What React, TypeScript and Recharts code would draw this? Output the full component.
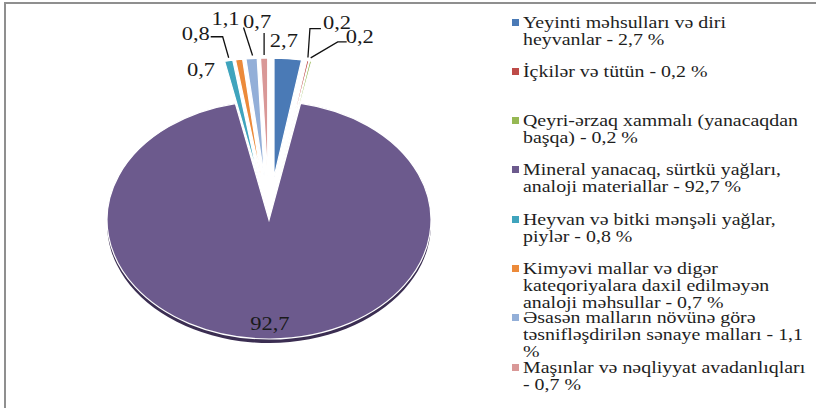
import React from 'react';
import { PieChart, Pie, Cell, Legend } from 'recharts';

// export structure shares, %
const categories = [
  'Yeyinti məhsulları və diri heyvanlar',
  'İçkilər və tütün',
  'Qeyri-ərzaq xammalı (yanacaqdan başqa)',
  'Mineral yanacaq, sürtkü yağları, analoji materiallar',
  'Heyvan və bitki mənşəli yağlar, piylər',
  'Kimyəvi mallar və digər kateqoriyalara daxil edilməyən analoji məhsullar',
  'Əsasən malların növünə görə təsnifləşdirilən sənaye malları',
  'Maşınlar və nəqliyyat avadanlıqları',
];
const shares = [2.7, 0.2, 0.2, 92.7, 0.8, 0.7, 1.1, 0.7];

const colors = ['#4a7ab6', '#be4b48', '#96b853', '#6c5a8d', '#3fa4bd', '#ec8a3a', '#93afd8', '#d99897'];

const data = categories.map((name, i) => ({ name, value: shares[i] }));

const FONT = '"Liberation Serif", "Times New Roman", serif';
const RAD = Math.PI / 180;
const K = 1.361; // horizontal stretch of the pie (ellipse)
const EXPLODE = 43;
const DEPTH = 4;

// label text offsets relative to the slice's outer point + leader line points
const labelPlace: ({ dx: number; dy: number; leader: number[][] } | null)[] = [
  { dx: -4, dy: -12, leader: [] },
  { dx: 29, dy: -32, leader: [[0, -3], [2, -32], [13, -32]] },
  { dx: 49, dy: -18, leader: [[0, -3], [27, -19], [36, -19]] },
  null,
  { dx: -33, dy: -21, leader: [[0, -3], [-6, -24], [-18, -24]] },
  { dx: -38, dy: 16, leader: [] },
  { dx: -26, dy: -34, leader: [[1, -3], [-8, -31]] },
  { dx: -7, dy: -30, leader: [[0, -3], [0, -25]] },
];

// legend line breaks the browser would not pick by itself (word after which to wrap)
const legendBreakAfter: (string | null)[] = ['diri', null, null, null, null, null, null, null];

const fmt = (v: number) => String(v).replace('.', ',');

const ellipsePoint = (cx: number, cy: number, r: number, angle: number) => ({
  x: cx + K * r * Math.cos(-angle * RAD),
  y: cy + r * Math.sin(-angle * RAD),
});

const sectorPath = (cx: number, cy: number, r: number, a0: number, a1: number) => {
  const p0 = ellipsePoint(cx, cy, r, a0);
  const p1 = ellipsePoint(cx, cy, r, a1);
  const large = Math.abs(a1 - a0) > 180 ? 1 : 0;
  const sweep = a1 < a0 ? 1 : 0;
  return `M${cx},${cy} L${p0.x},${p0.y} A${K * r},${r} 0 ${large} ${sweep} ${p1.x},${p1.y} Z`;
};

const EllipseSector = (props: any) => {
  const { cx, cy, outerRadius, startAngle, endAngle, fill, percent } = props;
  const big = percent > 0.5;
  const mid = (startAngle + endAngle) / 2;
  const off = big ? 0 : EXPLODE;
  const ox = K * off * Math.cos(-mid * RAD);
  const oy = off * Math.sin(-mid * RAD);
  const x = cx + ox;
  const y = cy + oy;
  return (
    <g>
      {big && (
        <path d={sectorPath(x, y + DEPTH, outerRadius, startAngle, endAngle)} fill="#3b2e52" />
      )}
      <path d={sectorPath(x, y, outerRadius, startAngle, endAngle)} fill={fill} stroke="#ffffff" strokeWidth={1.2} />
    </g>
  );
};

const renderLabel = (props: any) => {
  const { cx, cy, midAngle, outerRadius, index, value, percent } = props;
  const place = labelPlace[index];
  const textStyle = { fontFamily: FONT, fontSize: 18, fill: '#1a1a1a' };
  if (!place || percent > 0.5) {
    const p = ellipsePoint(cx, cy, outerRadius * 0.9, midAngle);
    return (
      <text transform={`translate(${p.x},${p.y + 3}) scale(1.25,1)`} textAnchor="middle" {...textStyle}>
        {fmt(value)}
      </text>
    );
  }
  const a = ellipsePoint(cx, cy, outerRadius + EXPLODE, midAngle);
  const pts = place.leader.map(([lx, ly]) => `${a.x + lx},${a.y + ly}`).join(' ');
  return (
    <g>
      {place.leader.length > 0 && <polyline points={pts} fill="none" stroke="#111" strokeWidth={1.3} />}
      <text transform={`translate(${a.x + place.dx},${a.y + place.dy}) scale(1.25,1)`} textAnchor="middle" {...textStyle}>
        {fmt(value)}
      </text>
    </g>
  );
};

const legendText = (i: number) => {
  const full = `${categories[i]} - ${fmt(shares[i])} %`;
  const w = legendBreakAfter[i];
  if (!w) return full;
  const at = full.indexOf(w) + w.length;
  return `${full.slice(0, at)}\n${full.slice(at + 1)}`;
};

// legend keeps the data order (recharts sorts the payload by name)
const renderLegend = () => (
  <div style={{ position: 'relative', width: 308, height: 408 }}>
    {categories.map((name, i) => (
      <div key={name} style={{ position: 'absolute', left: 0, top: 13.5 + i * 49.3, width: 308 }}>
        <div style={{ position: 'absolute', left: 4, top: 5, width: 7, height: 7, background: colors[i] }} />
        <div
          style={{
            position: 'absolute',
            left: 15,
            top: 0,
            width: 245,
            fontFamily: FONT,
            fontSize: 17,
            lineHeight: '17px',
            color: '#1e1e1e',
            transform: 'scaleX(1.17)',
            transformOrigin: 'left top',
            textAlign: 'left',
            whiteSpace: 'pre-line',
          }}
        >
          {legendText(i)}
        </div>
      </div>
    ))}
  </div>
);

export default function App() {
  return (
    <div style={{ position: 'absolute', left: 0, top: 0, width: 816, height: 408, background: '#fff', overflow: 'hidden' }}>
      <div
        style={{
          position: 'absolute',
          left: 4,
          top: 2,
          width: 812,
          height: 406,
          borderTop: '2px solid #8f8f8f',
          borderLeft: '2px solid #8f8f8f',
          boxSizing: 'border-box',
        }}
      />
      <div style={{ position: 'absolute', left: 0, top: 0 }}>
        <PieChart width={816} height={408} margin={{ top: 0, right: 0, bottom: 0, left: 0 }}>
          <Pie
            data={data}
            dataKey="value"
            nameKey="name"
            cx={269}
            cy={220}
            outerRadius={119}
            startAngle={90}
            endAngle={-270}
            stroke="#ffffff"
            shape={EllipseSector}
            label={renderLabel}
            labelLine={false}
            isAnimationActive={false}
          >
            {data.map((d, i) => (
              <Cell key={d.name} fill={colors[i]} />
            ))}
          </Pie>
          <Legend
            layout="vertical"
            align="right"
            verticalAlign="middle"
            content={renderLegend}
            wrapperStyle={{ position: 'absolute', left: 508, top: 0, width: 308, height: 408 }}
          />
        </PieChart>
      </div>
    </div>
  );
}
